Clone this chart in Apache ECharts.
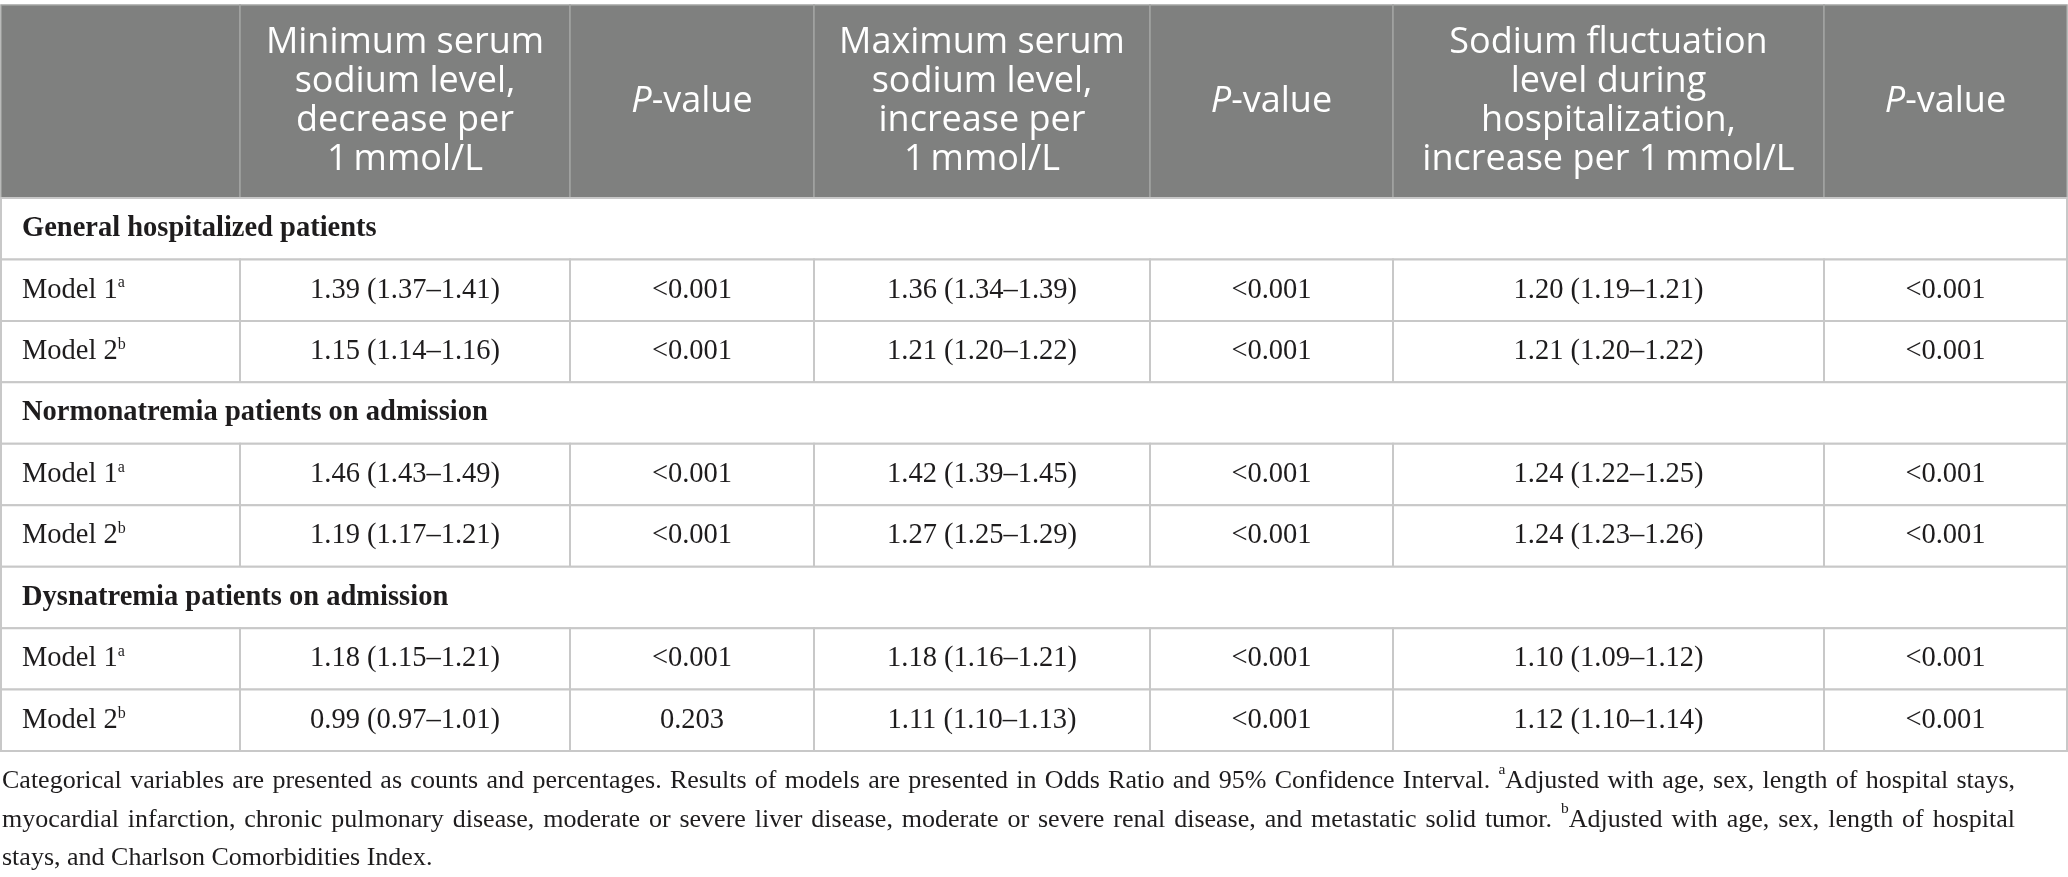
<!DOCTYPE html>
<html>
<head>
<meta charset="utf-8">
<script src="https://cdn.jsdelivr.net/npm/echarts@6/dist/echarts.min.js"></script>
<style>
  html, body { margin: 0; padding: 0; background: #fff; }
  #main { width: 2068px; height: 877px; }
</style>
</head>
<body>
<div id="main"></div>
<script>
// 表头
const headers = [
  '',
  'Minimum serum\nsodium level,\ndecrease per\n1\u2009mmol/L',
  '{it|P}-value',
  'Maximum serum\nsodium level,\nincrease per\n1\u2009mmol/L',
  '{it|P}-value',
  'Sodium fluctuation\nlevel during\nhospitalization,\nincrease per 1\u2009mmol/L',
  '{it|P}-value'
];

// 分组与模型
const groups = ['General hospitalized patients', 'Normonatremia patients on admission', 'Dysnatremia patients on admission'];
const models = ['Model 1{sup|a}', 'Model 2{sup|b}'];

// 各列数值（按 组1-模型1, 组1-模型2, 组2-模型1 ... 排列）
const minOR = ['1.39 (1.37–1.41)', '1.15 (1.14–1.16)', '1.46 (1.43–1.49)', '1.19 (1.17–1.21)', '1.18 (1.15–1.21)', '0.99 (0.97–1.01)'];
const minP = ['<0.001', '<0.001', '<0.001', '<0.001', '<0.001', '0.203'];
const maxOR = ['1.36 (1.34–1.39)', '1.21 (1.20–1.22)', '1.42 (1.39–1.45)', '1.27 (1.25–1.29)', '1.18 (1.16–1.21)', '1.11 (1.10–1.13)'];
const maxP = ['<0.001', '<0.001', '<0.001', '<0.001', '<0.001', '<0.001'];
const flucOR = ['1.20 (1.19–1.21)', '1.21 (1.20–1.22)', '1.24 (1.22–1.25)', '1.24 (1.23–1.26)', '1.10 (1.09–1.12)', '1.12 (1.10–1.14)'];
const flucP = ['<0.001', '<0.001', '<0.001', '<0.001', '<0.001', '<0.001'];

const footnote = [
  'Categorical variables are presented as counts and percentages. Results of models are presented in Odds Ratio and 95% Confidence Interval. {sup|a}Adjusted with age, sex, length of hospital stays,',
  'myocardial infarction, chronic pulmonary disease, moderate or severe liver disease, moderate or severe renal disease, and metastatic solid tumor. {sup|b}Adjusted with age, sex, length of hospital',
  'stays, and Charlson Comorbidities Index.'
];

// 布局（像素单位）
const colWidths = [239, 330, 244, 336, 243, 431, 243];
const headerHeight = 193;
const rowHeight = 61.45;
const noteWidth = 2013;
const noteSize = 26;
const noteSupSize = 15.5;

const colEdges = [0];
colWidths.forEach(w => colEdges.push(colEdges[colEdges.length - 1] + w));
const tableWidth = colEdges[colEdges.length - 1];

// 构建单元格
const columns = [minOR, minP, maxOR, maxP, flucOR, flucP];
const cells = [];
headers.forEach((h, i) => {
  cells.push({ kind: 'header', x0: colEdges[i], x1: colEdges[i + 1], y0: 0, y1: headerHeight, text: h });
});
let y = headerHeight;
groups.forEach((g, gi) => {
  cells.push({ kind: 'group', x0: 0, x1: tableWidth, y0: y, y1: y + rowHeight, text: g });
  y += rowHeight;
  models.forEach((m, mi) => {
    const k = gi * models.length + mi;
    cells.push({ kind: 'label', x0: colEdges[0], x1: colEdges[1], y0: y, y1: y + rowHeight, text: m });
    columns.forEach((col, ci) => {
      cells.push({ kind: 'value', x0: colEdges[ci + 1], x1: colEdges[ci + 2], y0: y, y1: y + rowHeight, text: col[k] });
    });
    y += rowHeight;
  });
});
const tableHeight = y;

const serif = '"Liberation Serif", "Times New Roman", serif';
const sans = '"Open Sans", "Noto Sans", sans-serif';
const ink = '#1e1c1d';

// 脚注两端对齐：按行测量，把空格换成定宽 token
const ctx = document.createElement('canvas').getContext('2d');
function measure(str, size) {
  ctx.font = size + 'px ' + serif;
  return ctx.measureText(str).width;
}
function wordWidth(word) {
  let w = 0;
  word.split(/(\{sup\|[^}]*\})/).forEach(part => {
    const m = part.match(/^\{sup\|([^}]*)\}$/);
    w += m ? measure(m[1], noteSupSize) : measure(part, noteSize);
  });
  return w;
}
const noteRich = {
  sup: { fontFamily: serif, fontSize: noteSupSize, lineHeight: noteSupSize, verticalAlign: 'top', color: ink }
};
const noteLines = footnote.map((line, li) => {
  if (li === footnote.length - 1) return line;
  const words = line.split(' ');
  const natural = words.reduce((s, w) => s + wordWidth(w), 0);
  const gap = Math.max((noteWidth - natural) / (words.length - 1), measure(' ', noteSize) * 0.8);
  noteRich['sp' + li] = { width: gap, fontSize: noteSize, fontFamily: serif };
  return words.join('{sp' + li + '| }');
});

function renderItem(params, api) {
  const c = cells[params.dataIndex];
  const p0 = api.coord([api.value(0), api.value(1)]);
  const p1 = api.coord([api.value(2), api.value(3)]);
  const x = p0[0], top = Math.min(p0[1], p1[1]);
  const w = p1[0] - p0[0], h = Math.abs(p1[1] - p0[1]);
  const isHeader = c.kind === 'header';

  const rect = {
    type: 'rect',
    shape: { x: x, y: top, width: w, height: h },
    style: isHeader
      ? { fill: '#7f807f', stroke: '#a3a4a3', lineWidth: 1.5 }
      : { fill: '#ffffff', stroke: '#c8c8c8', lineWidth: 2 }
  };

  let textStyle;
  if (isHeader) {
    textStyle = {
      text: c.text, x: x + w / 2, y: top + h / 2,
      align: 'center', verticalAlign: 'middle',
      fontFamily: sans, fontSize: 36, lineHeight: 39, fill: '#ffffff',
      rich: { it: { fontFamily: sans, fontSize: 36, fontStyle: 'italic', fill: '#ffffff', lineHeight: 39 } }
    };
  } else if (c.kind === 'group') {
    textStyle = {
      text: c.text, x: x + 21, y: top + h / 2,
      align: 'left', verticalAlign: 'middle',
      fontFamily: serif, fontSize: 28.5, fontWeight: 'bold', fill: ink
    };
  } else if (c.kind === 'label') {
    textStyle = {
      text: c.text, x: x + 21, y: top + h / 2,
      align: 'left', verticalAlign: 'middle',
      fontFamily: serif, fontSize: 28.5, lineHeight: 30, fill: ink,
      rich: { sup: { fontFamily: serif, fontSize: 16, lineHeight: 16, verticalAlign: 'top', fill: ink } }
    };
  } else {
    textStyle = {
      text: c.text, x: x + w / 2, y: top + h / 2,
      align: 'center', verticalAlign: 'middle',
      fontFamily: serif, fontSize: 28.5, fill: ink
    };
  }

  return {
    type: 'group',
    children: [rect, { type: 'text', style: textStyle }]
  };
}

const chart = echarts.init(document.getElementById('main'));
chart.setOption({
  backgroundColor: '#ffffff',
  animation: false,
  title: {
    text: noteLines.join('\n'),
    left: 2,
    top: 762,
    padding: 0,
    textStyle: {
      fontFamily: serif, fontSize: noteSize, fontWeight: 'normal', color: ink, lineHeight: 38.5,
      rich: noteRich
    }
  },
  grid: { left: 1, top: 5, width: tableWidth, height: tableHeight },
  xAxis: { type: 'value', min: 0, max: tableWidth, show: false },
  yAxis: { type: 'value', min: 0, max: tableHeight, inverse: true, show: false },
  series: [{
    type: 'custom',
    renderItem: renderItem,
    clip: false,
    data: cells.map(c => [c.x0, c.y0, c.x1, c.y1])
  }]
});
</script>
</body>
</html>
